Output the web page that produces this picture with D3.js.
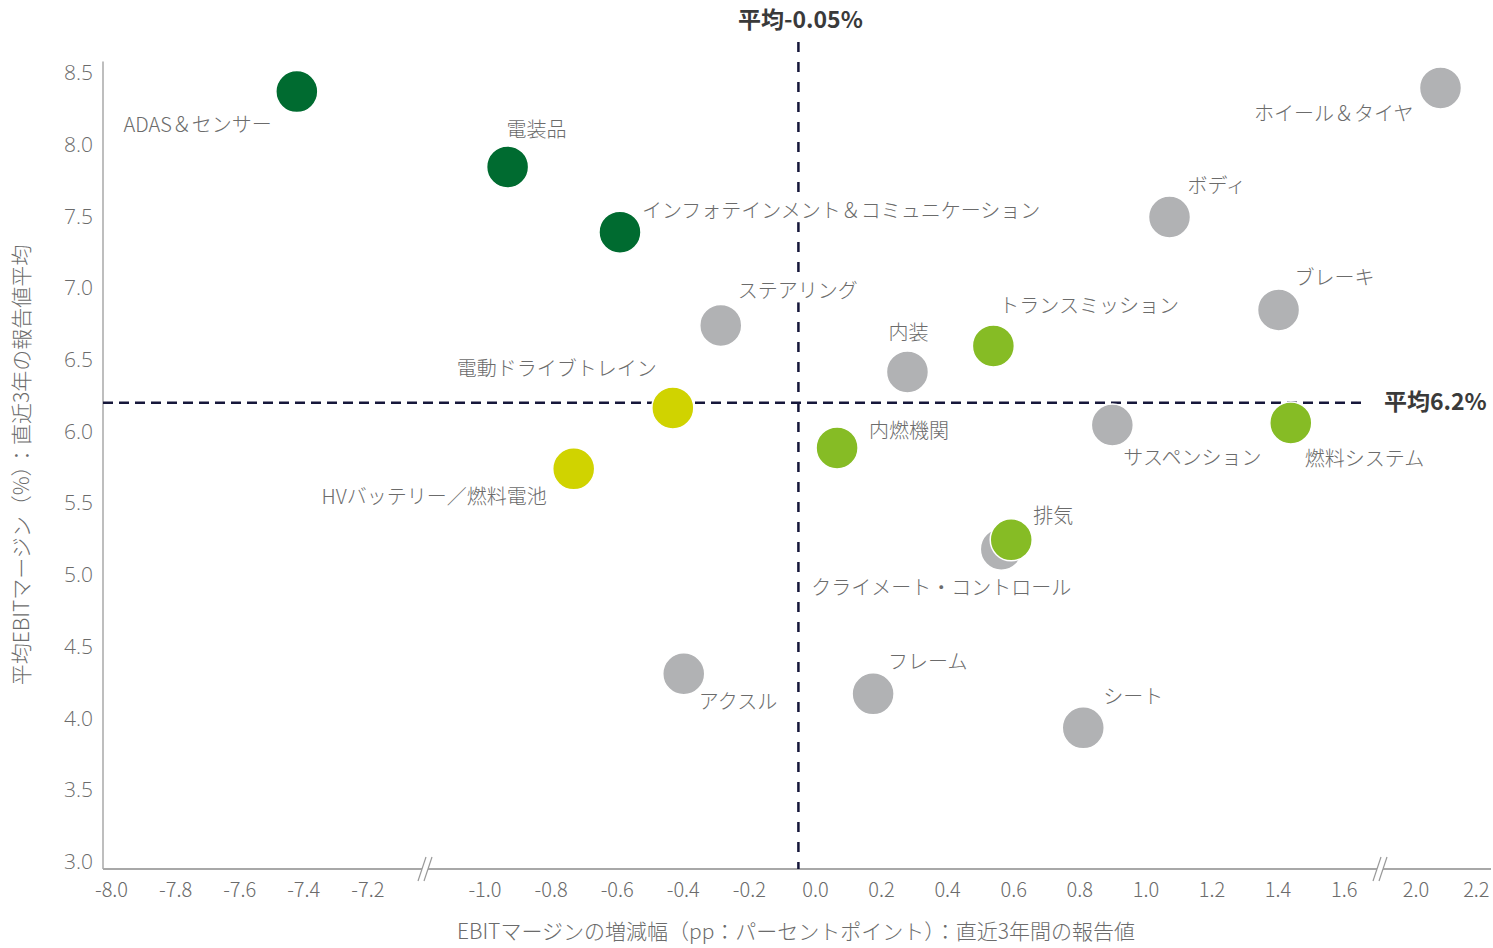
<!DOCTYPE html>
<html lang="ja">
<head>
<meta charset="utf-8">
<script src="https://cdn.jsdelivr.net/npm/d3@7/dist/d3.min.js"></script>
<style>
  html, body { margin: 0; padding: 0; background: #ffffff; }
  svg text { font-family: "Noto Sans CJK JP", "Noto Sans", sans-serif; }
</style>
</head>
<body>
<svg id="chart" width="1493" height="948"></svg>
<script>
// Segments (automotive component categories)
const segments = [
  "ADAS＆センサー", "電装品", "インフォテインメント＆コミュニケーション",
  "ステアリング", "電動ドライブトレイン", "HVバッテリー／燃料電池",
  "内装", "トランスミッション", "内燃機関", "サスペンション", "燃料システム",
  "ホイール＆タイヤ", "ボディ", "ブレーキ", "クライメート・コントロール", "排気",
  "フレーム", "シート", "アクスル"
];
// Change in EBIT margin over the last three years (pp)
const marginChange = [
  -7.42, -0.93, -0.59,
  -0.285, -0.43, -0.73,
  0.28, 0.54, 0.067, 0.90, 1.44,
  2.083, 1.073, 1.403, 0.564, 0.594,
  0.176, 0.812, -0.397
];
// Average reported EBIT margin over the last three years (%)
const avgMargin = [
  8.37, 7.845, 7.39,
  6.74, 6.165, 5.74,
  6.416, 6.597, 5.886, 6.046, 6.06,
  8.396, 7.496, 6.848, 5.18, 5.245,
  4.171, 3.934, 4.311
];
// Colour group per segment
const group = [
  "lead", "lead", "lead",
  "other", "ev", "ev",
  "other", "ice", "ice", "other", "ice",
  "other", "other", "other", "other", "ice",
  "other", "other", "other"
];
const xTicks = [-8.0, -7.8, -7.6, -7.4, -7.2, -1.0, -0.8, -0.6, -0.4, -0.2, 0.0,
                0.2, 0.4, 0.6, 0.8, 1.0, 1.2, 1.4, 1.6, 2.0, 2.2];
const yTicks = [3.0, 3.5, 4.0, 4.5, 5.0, 5.5, 6.0, 6.5, 7.0, 7.5, 8.0, 8.5];
const avgX = -0.05;
const avgY = 6.2;

// Label placement relative to each marker: [dx, dy, anchor]
const labelPlacement = [
  [-25, 33, "end"], [29, -37, "middle"], [22, -21, "start"],
  [17, -34, "start"], [-16, -39, "end"], [-27, 28, "end"],
  [1, -39, "middle"], [6, -40, "start"], [32, -17, "start"], [11, 33, "start"], [14, 36, "start"],
  [-27, 26, "end"], [18, -31, "start"], [16, -32, "start"], [-190, 39, "start"], [22, -24, "start"],
  [15, -32, "start"], [20, -31, "start"], [15, 28, "start"]
];

const colors = { lead: "#006b30", ice: "#86bc25", ev: "#d0d300", other: "#b1b2b4" };
const textColor = "#6b6b6b";

const svg = d3.select("#chart");

// Broken x axis: three linear segments joined at the break marks
const breakA = 425, breakB = 1380;
const x = d3.scaleLinear()
  .domain([-8.0, -7.02, -1.18, 1.71, 1.883, 2.25])
  .range([111, breakA, breakA, breakB, breakB, 1491]);
const y = d3.scaleLinear().domain([2.95, 8.58]).range([869, 61.5]);

const axisColor = "#a8a8a8";
const xAxisY = 869, yAxisX = 103;

// Axes lines
svg.append("line").attr("x1", yAxisX).attr("x2", yAxisX)
  .attr("y1", y(8.58)).attr("y2", xAxisY)
  .attr("stroke", axisColor).attr("stroke-width", 1.5);
svg.append("line").attr("x1", yAxisX).attr("x2", 1491)
  .attr("y1", xAxisY).attr("y2", xAxisY)
  .attr("stroke", axisColor).attr("stroke-width", 2);

// Break marks
[breakA, breakB].forEach(bx => {
  const g = svg.append("g").attr("transform", `translate(${bx},${xAxisY})`);
  g.append("polygon").attr("points", "-7,12 -1,12 7,-12 1,-12").attr("fill", "#fff");
  g.append("line").attr("x1", -7).attr("y1", 12).attr("x2", 1).attr("y2", -12)
    .attr("stroke", "#999").attr("stroke-width", 1.2);
  g.append("line").attr("x1", -1).attr("y1", 12).attr("x2", 7).attr("y2", -12)
    .attr("stroke", "#999").attr("stroke-width", 1.2);
});

// Tick labels
const xAxis = d3.axisBottom(x).tickValues(xTicks).tickSize(0).tickPadding(14)
  .tickFormat(d3.format(".1f"));
svg.append("g").attr("transform", `translate(0,${xAxisY})`).call(xAxis)
  .call(g => g.select(".domain").remove())
  .selectAll("text")
  .attr("font-family", "'Noto Sans CJK JP', sans-serif")
  .attr("font-weight", 300).attr("font-size", 20).attr("fill", textColor)
  .text(d => d.toFixed(1));

const yAxis = d3.axisLeft(y).tickValues(yTicks).tickSize(0).tickPadding(10)
  .tickFormat(d3.format(".1f"));
svg.append("g").attr("transform", `translate(${yAxisX},0)`).call(yAxis)
  .call(g => g.select(".domain").remove())
  .selectAll("text")
  .style("font-family", "'Open Sans', sans-serif")
  .attr("font-weight", 300).attr("font-size", 21).attr("fill", textColor);

// Average reference lines
const refColor = "#16173a";
svg.append("line")
  .attr("x1", yAxisX).attr("x2", 1366)
  .attr("y1", y(avgY)).attr("y2", y(avgY))
  .attr("stroke", refColor).attr("stroke-width", 2.5)
  .attr("stroke-dasharray", "10,6");
svg.append("line")
  .attr("x1", x(avgX)).attr("x2", x(avgX))
  .attr("y1", 42).attr("y2", xAxisY)
  .attr("stroke", refColor).attr("stroke-width", 2.5)
  .attr("stroke-dasharray", "10,10");

svg.append("text")
  .attr("x", x(avgX) + 2).attr("y", 28)
  .attr("text-anchor", "middle")
  .attr("font-size", 23).attr("font-weight", 700).attr("fill", "#3a3a3a")
  .text(`平均${avgX.toFixed(2)}%`);
svg.append("text")
  .attr("x", 1384).attr("y", y(avgY) + 7)
  .attr("text-anchor", "start")
  .attr("font-size", 23).attr("font-weight", 700).attr("fill", "#3a3a3a")
  .text(`平均${avgY}%`);

// Marker data
const pts = segments.map((s, i) => ({
  name: s, x: marginChange[i], y: avgMargin[i], g: group[i], lp: labelPlacement[i]
}));

// Labels on a white backing so the reference lines pass behind them
const labels = svg.append("g").selectAll("g").data(pts).join("g");
labels.append("rect").attr("fill", "#ffffff");
labels.append("text")
  .attr("x", d => x(d.x) + d.lp[0]).attr("y", d => y(d.y) + d.lp[1])
  .attr("dy", "0.35em")
  .attr("text-anchor", d => d.lp[2])
  .attr("font-size", 20).attr("font-weight", 300).attr("fill", textColor)
  .text(d => d.name);
labels.each(function () {
  const g = d3.select(this);
  const b = g.select("text").node().getBBox();
  g.select("rect").attr("x", b.x - 2).attr("y", b.y + 2)
    .attr("width", b.width + 4).attr("height", b.height - 4);
});

// Markers
svg.append("g").selectAll("circle").data(pts).join("circle")
  .attr("cx", d => x(d.x)).attr("cy", d => y(d.y)).attr("r", 21)
  .attr("fill", d => colors[d.g])
  .attr("stroke", "#ffffff").attr("stroke-width", 1.5);

// Axis titles
svg.append("text")
  .attr("x", 796).attr("y", 932).attr("dy", "0.35em")
  .attr("text-anchor", "middle")
  .attr("font-size", 21).attr("font-weight", 300).attr("fill", textColor)
  .text("EBITマージンの増減幅（pp：パーセントポイント）：直近3年間の報告値");
svg.append("text")
  .attr("transform", "translate(22,465) rotate(-90)")
  .attr("dy", "0.35em")
  .attr("text-anchor", "middle")
  .attr("font-size", 21).attr("font-weight", 300).attr("fill", textColor)
  .text("平均EBITマージン（%）：直近3年の報告値平均");
</script>
</body>
</html>
